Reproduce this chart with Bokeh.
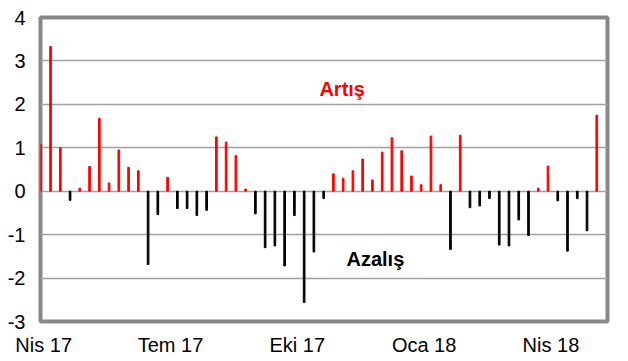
from bokeh.plotting import figure
from bokeh.models import Range1d, FixedTicker, Label, ColumnDataSource
from bokeh.embed import file_html
from bokeh.resources import INLINE

# Weekly change values (Apr 2017 - May 2018)
values = [1.08, 3.33, 1.00, -0.21, 0.07, 0.57, 1.68, 0.19, 0.95, 0.55,
          0.47, -1.69, -0.54, 0.32, -0.40, -0.40, -0.56, -0.44, 1.25, 1.13,
          0.82, 0.05, -0.52, -1.30, -1.26, -1.72, -0.56, -2.56, -1.40, -0.17,
          0.40, 0.30, 0.47, 0.74, 0.26, 0.90, 1.23, 0.93, 0.35, 0.15,
          1.27, 0.15, -1.34, 1.29, -0.38, -0.34, -0.17, -1.24, -1.26, -0.66,
          -1.02, 0.07, 0.58, -0.22, -1.38, -0.17, -0.91, 1.75]
tick_index = [0, 13, 26, 39, 52]
tick_labels = ["Nis 17", "Tem 17", "Eki 17", "Oca 18", "Nis 18"]
y_ticks = [-3, -2, -1, 0, 1, 2, 3, 4]
y_tick_labels = ["-3", "-2", "-1", "0", "1", "2", "3", "4"]

xs = list(range(len(values)))
colors = ["#FF0000" if v >= 0 else "#000000" for v in values]
src = ColumnDataSource(dict(x=xs, top=values, color=colors))

FONT = "Liberation Sans"

p = figure(width=620, height=358, output_backend="svg", toolbar_location=None,
           x_range=Range1d(-0.03, 58.1), y_range=Range1d(-3, 4),
           min_border_left=40, min_border_right=13, min_border_top=17, min_border_bottom=36)

p.vbar(x="x", top="top", bottom=0, width=0.17, color="color", source=src)

p.outline_line_color = "#888888"
p.outline_line_width = 4
p.background_fill_color = "white"
p.border_fill_color = "white"

# y axis
p.yaxis.ticker = FixedTicker(ticks=y_ticks)
p.yaxis.major_label_overrides = {t: l for t, l in zip(y_ticks, y_tick_labels)}
p.yaxis.axis_line_color = None
p.yaxis.major_tick_line_color = None
p.yaxis.minor_tick_line_color = None
p.yaxis.major_tick_out = 0
p.yaxis.major_tick_in = 0
p.yaxis.minor_tick_out = 0
p.yaxis.major_label_text_font = FONT
p.yaxis.major_label_text_font_size = "20px"
p.yaxis.major_label_text_color = "#000000"
p.yaxis.major_label_standoff = 15

# x axis
tick_pos = [i + 0.3 for i in tick_index]
p.xaxis.ticker = FixedTicker(ticks=tick_pos)
p.xaxis.major_label_overrides = {t: l for t, l in zip(tick_pos, tick_labels)}
p.xaxis.axis_line_color = None
p.xaxis.major_tick_line_color = None
p.xaxis.minor_tick_line_color = None
p.xaxis.major_tick_out = 0
p.xaxis.major_tick_in = 0
p.xaxis.minor_tick_out = 0
p.xaxis.major_label_text_font = FONT
p.xaxis.major_label_text_font_size = "20px"
p.xaxis.major_label_text_color = "#000000"
p.xaxis.major_label_standoff = 12

p.xgrid.grid_line_color = None
p.ygrid.grid_line_color = "#a0a0a0"
p.ygrid.grid_line_width = 1.5

p.add_layout(Label(x=30.9, y=2.35, text="Artış", text_color="#FF0000",
                   text_font=FONT, text_font_size="20px", text_font_style="bold",
                   text_align="center", text_baseline="middle"))
p.add_layout(Label(x=34.3, y=-1.55, text="Azalış", text_color="#000000",
                   text_font=FONT, text_font_size="20px", text_font_style="bold",
                   text_align="center", text_baseline="middle"))

open("out.html", "w").write(file_html(p, INLINE))
